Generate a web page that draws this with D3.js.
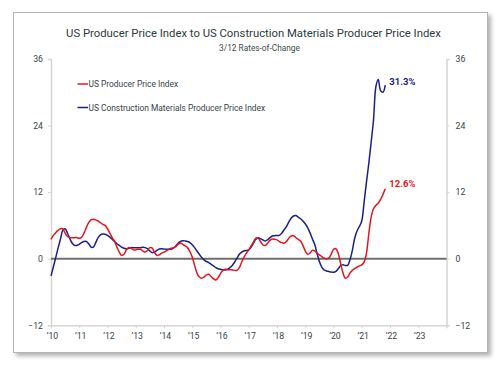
<!DOCTYPE html>
<html>
<head>
<meta charset="utf-8">
<script src="https://cdn.jsdelivr.net/npm/d3@7"></script>
<style>
  html, body { margin: 0; padding: 0; background: #ffffff; }
  svg { display: block; font-family: Roboto, "Noto Sans", sans-serif; }
</style>
</head>
<body>
<svg id="chart" width="500" height="368"></svg>
<script>
// ---- Data (monthly, Jan 2010 – Nov 2021), 3/12 rates-of-change (%) ----
const startYear = 2010;
const ppi = [
  3.5, 4.2, 4.7, 5.1, 5.4, 5.4, 4.6, 4.0, 3.8, 3.8, 3.8, 3.8,      // 2010
  3.7, 3.9, 4.6, 5.6, 6.5, 7.0, 7.1, 7.0, 6.8, 6.5, 6.2, 6.0,      // 2011
  5.4, 4.6, 3.8, 3.1, 2.1, 1.2, 0.6, 0.8, 1.6, 2.0, 1.9, 1.6,      // 2012
  1.6, 1.7, 1.7, 1.4, 1.2, 1.5, 2.0, 1.9, 1.1, 0.6, 0.7, 1.0,      // 2013
  1.2, 1.4, 1.7, 1.9, 2.0, 2.2, 2.6, 2.8, 2.6, 2.3, 2.0, 1.3,      // 2014
  0.3, -1.2, -2.6, -3.3, -3.5, -3.3, -2.9, -2.8, -3.2, -3.6, -3.85, -3.4, // 2015
  -2.7, -2.1, -1.9, -2.0, -2.0, -2.0, -2.1, -2.1, -1.6, -0.6, 0.3, 1.0,   // 2016
  1.6, 2.3, 3.0, 3.7, 3.7, 3.1, 2.5, 2.4, 2.8, 3.3, 3.55, 3.5,     // 2017
  3.4, 3.1, 2.9, 2.8, 3.1, 3.7, 4.1, 4.15, 3.8, 3.5, 3.2, 2.4,     // 2018
  1.4, 0.8, 1.0, 1.5, 1.4, 1.0, 0.7, 0.4, 0.1, 0.0, 0.1, 0.8,      // 2019
  1.7, 1.8, 1.0, -0.8, -2.5, -3.5, -3.3, -2.6, -2.1, -1.8, -1.5, -1.3,   // 2020
  -1.1, -0.6, 1.0, 4.5, 7.5, 9.0, 9.6, 10.0, 10.7, 11.6, 12.6      // 2021
];
const construction = [
  -3.1, -1.5, 0.2, 1.9, 3.5, 5.1, 5.4, 4.6, 3.6, 2.8, 2.4, 2.4,    // 2010
  2.6, 2.9, 3.1, 3.1, 2.7, 2.1, 2.1, 2.9, 3.8, 4.3, 4.45, 4.4,     // 2011
  4.2, 3.9, 3.5, 3.1, 2.7, 2.4, 2.1, 1.9, 1.8, 1.9, 2.0, 2.0,      // 2012
  2.0, 2.0, 2.0, 2.05, 2.0, 1.8, 1.4, 1.1, 1.2, 1.5, 1.75, 1.8,    // 2013
  1.75, 1.7, 1.7, 1.7, 1.9, 2.3, 2.8, 3.1, 3.25, 3.2, 3.1, 2.9,    // 2014
  2.5, 2.0, 1.4, 0.8, 0.2, -0.2, -0.5, -0.7, -1.0, -1.3, -1.6, -1.8,     // 2015
  -1.9, -2.0, -2.05, -1.9, -1.6, -1.2, -0.6, 0.1, 0.8, 1.2, 1.4, 1.5,    // 2016
  1.6, 2.1, 2.8, 3.5, 3.8, 3.6, 3.4, 3.2, 3.4, 3.8, 4.1, 4.15,     // 2017
  4.2, 4.2, 4.6, 5.2, 5.8, 6.6, 7.3, 7.7, 7.8, 7.5, 7.2, 6.8,      // 2018
  6.3, 5.6, 4.7, 3.6, 2.6, 1.0, -0.5, -1.5, -2.0, -2.2, -2.3, -2.4,      // 2019
  -2.45, -2.3, -1.8, -1.3, -1.1, -1.2, -1.2, -0.2, 1.5, 3.7, 5.0, 5.8,   // 2020
  6.8, 10.2, 13.8, 17.2, 21.0, 25.0, 31.0, 32.3, 30.3, 30.0, 31.3  // 2021
];
const yTicks = [-12, 0, 12, 24, 36];
const xTickYears = [2010, 2011, 2012, 2013, 2014, 2015, 2016, 2017, 2018, 2019, 2020, 2021, 2022, 2023];
const xTickLabels = ["’10", "’11", "’12", "’13", "’14", "’15", "’16", "’17", "’18", "’19", "’20", "’21", "’22", "’23"];
const seriesNames = ["US Producer Price Index", "US Construction Materials Producer Price Index"];
const endLabels = ["12.6%", "31.3%"];
const title = "US Producer Price Index to US Construction Materials Producer Price Index";
const subtitle = "3/12 Rates-of-Change";

// ---- Styles ----
const RED = "#e8141c";
const NAVY = "#1b1f8a";
const TEXT = "#34444a";

const svg = d3.select("#chart");

// Frame with drop shadow
const defs = svg.append("defs");
const f = defs.append("filter").attr("id", "shadow").attr("x", "-5%").attr("y", "-5%").attr("width", "115%").attr("height", "115%");
f.append("feDropShadow").attr("dx", 3).attr("dy", 3).attr("stdDeviation", 2).attr("flood-color", "#000").attr("flood-opacity", 0.3);

svg.append("rect")
  .attr("x", 13.5).attr("y", 12.5).attr("width", 474).attr("height", 340)
  .attr("fill", "#fff").attr("stroke", "#b4b4b4").attr("stroke-width", 1)
  .attr("filter", "url(#shadow)");

const x = d3.scaleLinear().domain([2010, 2024]).range([51, 446.5]);
const y = d3.scaleLinear().domain([-12, 36]).range([325.3, 59]);

// Titles
svg.append("text").attr("x", 253.5).attr("y", 37).attr("text-anchor", "middle")
  .attr("font-size", 11.3).attr("fill", "#2b3a3e").text(title);
svg.append("text").attr("x", 259.5).attr("y", 50.5).attr("text-anchor", "middle")
  .attr("font-size", 8.3).attr("fill", "#3c4a4e").text(subtitle);

// Axes
const axisColor = "#d6d6d6";
const leftAxis = svg.append("g").attr("transform", `translate(${x(2010)},0)`)
  .call(d3.axisLeft(y).tickValues(yTicks).tickSize(3).tickPadding(5).tickFormat(d3.format("d")));
const rightAxis = svg.append("g").attr("transform", `translate(${x(2024)},0)`)
  .call(d3.axisRight(y).tickValues(yTicks).tickSize(3).tickPadding(6).tickFormat(d3.format("d")));
const bottomAxis = svg.append("g").attr("transform", `translate(0,${y(-12)})`)
  .call(d3.axisBottom(x).tickValues(xTickYears).tickSize(3).tickPadding(5)
    .tickFormat((d, i) => xTickLabels[i]));
[leftAxis, rightAxis, bottomAxis].forEach(g => {
  g.select(".domain").attr("stroke", axisColor).attr("stroke-width", 1.5);
  g.selectAll(".tick line").attr("stroke", axisColor).attr("stroke-width", 1);
  g.selectAll(".tick text").attr("fill", TEXT).attr("font-size", 8.7)
    .attr("font-family", "Roboto, sans-serif");
});
bottomAxis.selectAll(".tick text").attr("dx", 1);

// Zero line
svg.append("line")
  .attr("x1", x(2010)).attr("x2", x(2024))
  .attr("y1", y(0)).attr("y2", y(0))
  .attr("stroke", "#6f6f6f").attr("stroke-width", 1.8);

// Lines
const line = d3.line()
  .x((d, i) => x(startYear + i / 12))
  .y(d => y(d))
  .curve(d3.curveCatmullRom.alpha(0.5));

svg.append("path").datum(construction)
  .attr("d", line).attr("fill", "none").attr("stroke", NAVY).attr("stroke-width", 1.5);
svg.append("path").datum(ppi)
  .attr("d", line).attr("fill", "none").attr("stroke", RED).attr("stroke-width", 1.5);

// End labels
const series = [ppi, construction];
const colors = [RED, NAVY];
series.forEach((s, k) => {
  const last = s.length - 1;
  svg.append("text")
    .attr("x", x(startYear + last / 12) + 4)
    .attr("y", y(s[last]) + (k === 1 ? -0.5 : -2))
    .attr("font-size", 9.5).attr("font-weight", "bold")
    .attr("fill", colors[k]).text(endLabels[k]);
});

// Legend
seriesNames.forEach((name, k) => {
  const ly = 84 + k * 23.5;
  svg.append("line").attr("x1", 77.5).attr("x2", 88).attr("y1", ly).attr("y2", ly)
    .attr("stroke", colors[k]).attr("stroke-width", 1.5);
  svg.append("text").attr("x", 88.5).attr("y", ly + 3).attr("font-size", 8.4)
    .attr("fill", TEXT).text(name);
});
</script>
</body>
</html>
